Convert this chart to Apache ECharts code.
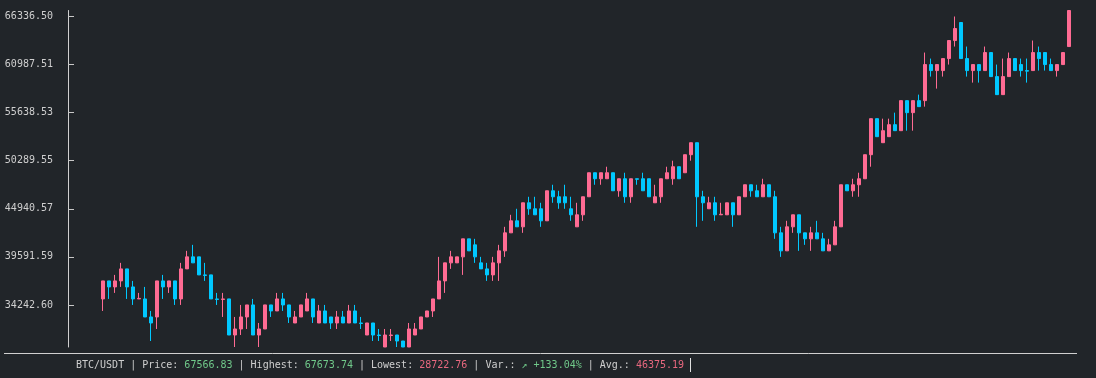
<!DOCTYPE html>
<html>
<head>
<meta charset="utf-8">
<script src="https://cdn.jsdelivr.net/npm/echarts@6/dist/echarts.min.js"></script>
<style>
html,body{margin:0;padding:0;background:#212529;}
#chart{width:1096px;height:378px;}
</style>
</head>
<body>
<div id="chart"></div>
<script>
// Y-axis tick labels
const yTicks = [34242.60, 39591.59, 44940.57, 50289.55, 55638.53, 60987.51, 66336.50];

// OHLC values (162 periods)
const opens = [
34911,36917,36248,36917,38254,36248,34911,34911,32905,32905,
36917,36248,36917,34911,38254,39592,39592,37585,37585,34911,
34851,34911,30899,31568,32905,34243,30899,31568,34243,33574,
34911,34243,32236,32905,33574,34911,32236,33574,32905,32236,
32905,32236,33574,32236,30899,32236,30899,29562,30839,30899,
30231,29562,30899,31568,32905,33574,34911,36917,38923,38923,
39592,41597,40929,38923,38254,37585,38923,40260,42266,43603,
42934,45609,44941,44941,43603,46946,46278,46278,44941,42934,
44272,46278,48952,48283,48283,48952,46946,48283,46278,48283,
48283,48283,45609,46278,48283,48283,49621,48952,50958,52295,
46278,44941,45609,44272,44272,45609,44272,46278,47615,46946,
46278,47615,46278,42266,40260,42934,44272,42266,41597,42266,
41597,40260,40929,42934,47615,46946,47615,48283,50958,54970,
52295,52964,54301,53632,56976,55639,56976,56976,60988,60319,
60319,61656,63662,65668,61656,60319,60988,60319,62325,59650,
57644,59650,61656,60988,60319,60319,62325,62325,60988,60319,
60988,62993];
const closes = [
36917,36248,36917,38254,36248,34911,34971,32905,32236,36917,
36248,36917,34911,38254,39592,38923,37585,37525,34911,34851,
34911,30899,31568,32905,34243,30899,31568,34243,33574,34911,
34243,32905,32905,34243,34911,32905,33574,32236,32236,32905,
32236,33574,32236,32176,32236,30899,30839,30899,30899,30231,
29562,31568,31568,32905,33574,34911,36917,38923,39592,39592,
41597,40260,39592,38254,37585,38923,40260,42266,43603,42934,
45609,44941,44272,43603,46946,46278,45609,45609,44272,44272,
46278,48952,48283,48952,48952,46946,48283,46278,48283,48223,
46946,46278,46278,48283,48952,49621,48283,50958,52295,46278,
45609,45609,44272,44332,45609,44272,46278,47615,46946,46278,
47615,46278,42266,40260,42934,44272,42266,41597,42266,41597,
40260,40929,42934,47615,46946,47615,48283,50958,54970,52964,
53632,54301,53632,56976,55639,56976,56307,60988,60319,60988,
61656,63662,64999,61656,60319,60988,60319,62325,59650,57644,
59650,61656,60319,60319,60259,62325,61656,60988,60319,60988,
62325,67005];
const lows = [
33574,34911,35580,36248,34911,34243,34911,32905,30231,31568,
34911,35580,34243,34243,38254,38923,37585,36917,34911,34243,
32905,30899,29562,30899,31568,30899,29562,31568,32905,33574,
33574,32236,32236,32905,33574,32236,32236,32236,31568,31568,
32236,32236,32236,31568,30899,30231,30231,29562,30231,29562,
29562,29562,30899,31568,32905,32905,34911,35580,38254,38923,
37585,40260,38923,38254,36917,36917,36917,39592,42266,42934,
42266,44272,44272,42934,43603,45609,44941,44941,43603,42934,
43603,46278,47615,47615,48283,46946,46278,45609,45609,47615,
46946,46278,45609,45609,48283,47615,48283,48952,50290,42934,
43603,44941,43603,44272,44272,42934,44272,46278,46278,46278,
46278,46278,41597,39592,40260,42266,40260,40929,40260,41597,
40260,40260,40929,42934,46946,46278,46278,48283,49621,52964,
52295,52964,53632,53632,53632,53632,56307,56307,59650,58313,
59650,60988,62993,61656,59650,58981,58981,60319,59650,57644,
57644,59650,60319,59650,58981,60319,60319,60319,60319,59650,
60988,62993];
const highs = [
36917,36917,37585,38923,38254,36917,35580,36248,33574,36917,
37585,36917,36917,38923,40260,40929,39592,38923,37585,35580,
35580,34911,32905,34243,34243,34911,32236,34243,34243,35580,
35580,34243,33574,34243,35580,34911,34243,34243,32905,33574,
33574,34243,34243,32905,32236,32236,31568,31568,31568,30899,
30231,32236,32236,32905,33574,34911,39592,38923,40260,39592,
41597,41597,41597,39592,38923,39592,40929,42934,44272,44941,
45609,46278,46278,45609,46946,47615,46946,47615,46278,45609,
46278,48952,48952,48952,49621,48952,48283,48952,48283,48283,
48952,48283,47615,48283,49621,50290,49621,50958,52295,52295,
46946,46278,46278,45609,45609,45609,46278,47615,47615,47615,
48283,47615,46946,42934,43603,44272,44272,42266,42934,43603,
42266,41597,43603,47615,47615,48283,48952,50958,54970,54970,
54970,54970,55639,56976,56976,56976,57644,62325,61656,60988,
61656,63662,66337,65668,62993,60988,60988,62993,62325,60988,
61656,62325,61656,61656,61656,63662,62993,62325,61656,60988,
62325,67005];

const categories = opens.map((_, i) => String(i + 1));
const ohlc = opens.map((o, i) => [o, closes[i], lows[i], highs[i]]);

const MONO = '"DejaVu Sans Mono", "Liberation Mono", monospace';
const TEXT = '#cfcfcf';
const UP = '#ff6b93';
const DOWN = '#00c8ff';

const chart = echarts.init(document.getElementById('chart'), null, {renderer: 'canvas'});
chart.setOption({
  backgroundColor: '#212529',
  animation: false,
  grid: {left: 100, right: 24, top: 10.5, bottom: 31},
  title: {
    left: 76, top: 359, padding: 0,
    text: '{w|BTC/USDT | Price: }{g|67566.83}{w| | Highest: }{g|67673.74}{w| | Lowest: }{r|28722.76}{w| | Var.: }{g|↗ +133.04%}{w| | Avg.: }{r|46375.19}',
    textStyle: {
      fontFamily: MONO, fontSize: 10, fontWeight: 'normal',
      rich: {
        w: {color: TEXT, fontFamily: MONO, fontSize: 10, lineHeight: 12},
        g: {color: '#70c98a', fontFamily: MONO, fontSize: 10, lineHeight: 12},
        r: {color: '#e8687f', fontFamily: MONO, fontSize: 10, lineHeight: 12}
      }
    }
  },
  xAxis: {
    type: 'category',
    data: categories,
    axisLine: {show: false},
    axisTick: {show: false},
    axisLabel: {show: false},
    splitLine: {show: false}
  },
  yAxis: {
    type: 'value',
    min: 29562,
    max: 67005,
    offset: 32,
    position: 'left',
    axisLine: {show: true, lineStyle: {color: '#d0d0d0', width: 1}},
    axisTick: {show: true, inside: true, length: 6, customValues: yTicks, lineStyle: {color: '#c8c8c8'}},
    axisLabel: {
      show: true, customValues: yTicks, margin: 15,
      color: TEXT, fontFamily: MONO, fontSize: 10,
      formatter: v => Number(v).toFixed(2)
    },
    splitLine: {show: false}
  },
  graphic: [
    {type: 'line', shape: {x1: 4, y1: 353.5, x2: 1077, y2: 353.5}, style: {stroke: '#d0d0d0', lineWidth: 1}, silent: true},
    {type: 'rect', shape: {x: 690, y: 358, width: 1, height: 14}, style: {fill: '#e0e0e0'}, silent: true}
  ],
  series: [{
    type: 'candlestick',
    data: ohlc,
    barWidth: 3,
    itemStyle: {
      color: UP, color0: DOWN,
      borderColor: UP, borderColor0: DOWN,
      borderWidth: 1
    }
  }]
});
</script>
</body>
</html>
